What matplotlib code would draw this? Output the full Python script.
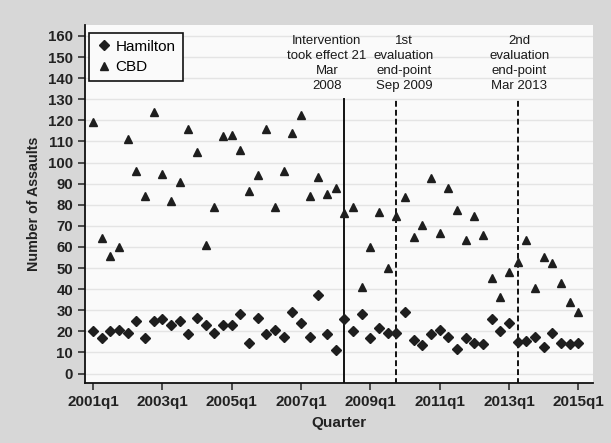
import matplotlib
matplotlib.use("Agg")
import matplotlib.pyplot as plt

plt.rcParams['font.family'] = ['Liberation Sans', 'DejaVu Sans']

# quarters from 2001q1 (index 0) to 2015q1 (index 56)
quarter = list(range(57))

hamilton = [20, 17, 20, 20.5, 19, 25, 17, 25, 26, 23,
            25, 18.5, 26.5, 23, 19, 23, 23, 28, 14.5, 26.5,
            18.5, 20.5, 17.5, 29, 24, 17.5, 37, 18.5, 11, 26,
            20, 28, 17, 21.5, 19, 19, 29, 16, 13.5, 18.5,
            20.5, 17.5, 11.5, 17, 14.5, 14, 26, 20, 24, 15,
            15.5, 17.5, 12.5, 19, 14.5, 14, 14.5]

cbd = [119, 64, 55.5, 60, 111, 96, 84, 124, 94.5, 82,
       91, 116, 105, 61, 79, 112.5, 113, 106, 86.5, 94,
       116, 79, 96, 114, 122.5, 84, 93, 85, 88, 76,
       79, 41, 60, 76.5, 50, 74.5, 83.5, 64.5, 70.5, 92.5,
       66.5, 88, 77.5, 63.5, 74.5, 65.5, 45.5, 36.5, 48, 53,
       63.5, 40.5, 55, 52.5, 43, 34, 29]

tick_pos = [0, 8, 16, 24, 32, 40, 48, 56]
tick_labels = ['2001q1', '2003q1', '2005q1', '2007q1', '2009q1', '2011q1', '2013q1', '2015q1']

event_pos = [29, 35, 49]
event_styles = ['-', (0, (3, 1.6)), (0, (3, 1.6))]
event_text = ['Intervention\ntook effect 21\nMar\n2008',
              '1st\nevaluation\nend-point\nSep 2009',
              '2nd\nevaluation\nend-point\nMar 2013']
text_pos = [27.0, 35.9, 49.2]

fig = plt.figure(figsize=(6.11, 4.43), dpi=100, facecolor='#d7d7d7')
ax = fig.add_axes([0.139, 0.1354, 0.8315, 0.8082])
ax.set_facecolor('#fafafa')

for y in range(0, 170, 10):
    ax.axhline(y, color='#e4e4e4', lw=1.0, zorder=0)

ax.plot(quarter, hamilton, 'D', color='#1e1e1e', markersize=4.6, label='Hamilton', zorder=3)
ax.plot(quarter, cbd, '^', color='#1e1e1e', markersize=6, label='CBD', zorder=3)

for xp, ls in zip(event_pos, event_styles):
    ax.plot([xp, xp], [-5, 130], color='#111111', lw=1.4, linestyle=ls, zorder=2)

for xp, txt in zip(text_pos, event_text):
    ax.text(xp, 133.5, txt, ha='center', va='bottom', fontsize=9.5,
            linespacing=1.32, color='#1a1a1a')

ax.set_xlim(-0.92, 57.7)
ax.set_ylim(-4.5, 165.2)
ax.set_xticks(tick_pos)
ax.set_xticklabels(tick_labels, fontsize=11, fontweight='bold', color='#222222')
ax.set_yticks(range(0, 170, 10))
ax.set_yticklabels([str(v) for v in range(0, 170, 10)], fontsize=10.8,
                   fontweight='bold', color='#222222')
ax.tick_params(direction='out', length=5, width=1.1, color='#222222')

for s in ['top', 'right']:
    ax.spines[s].set_visible(False)
for s in ['left', 'bottom']:
    ax.spines[s].set_linewidth(1.3)
    ax.spines[s].set_color('#111111')

ax.set_xlabel('Quarter', fontsize=11, fontweight='bold', color='#222222', labelpad=5)
ax.set_ylabel('Number of Assaults', fontsize=10.3, fontweight='bold', color='#222222', labelpad=5)

leg = ax.legend(loc='upper left', bbox_to_anchor=(0.008, 0.978), borderaxespad=0,
                fontsize=11, frameon=True, fancybox=False, borderpad=0.45,
                handletextpad=0.3, handlelength=1.0, labelspacing=0.4)
leg.get_frame().set_edgecolor('#111111')
leg.get_frame().set_linewidth(1.2)
leg.get_frame().set_facecolor('#fafafa')
leg.get_frame().set_alpha(1)

fig.savefig('out.png', dpi=100, facecolor=fig.get_facecolor())
